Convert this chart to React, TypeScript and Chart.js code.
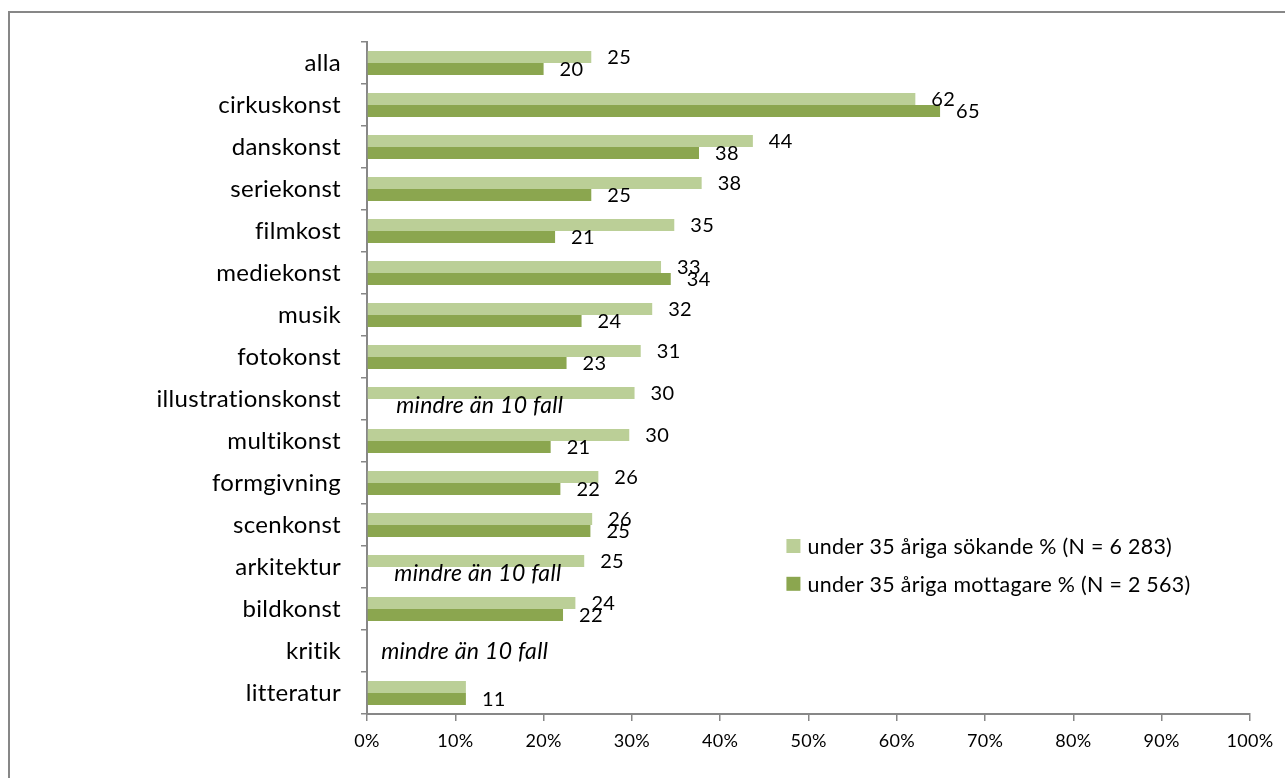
import React, { useEffect, useRef } from "react";
import { Chart, registerables } from "chart.js";

Chart.register(...registerables);

const categories = [
  "alla", "cirkuskonst", "danskonst", "seriekonst", "filmkost", "mediekonst", "musik", "fotokonst",
  "illustrationskonst", "multikonst", "formgivning", "scenkonst", "arkitektur", "bildkonst", "kritik", "litteratur",
];
const sokande = [25.4, 62.1, 43.7, 37.9, 34.8, 33.3, 32.3, 31.0, 30.3, 29.7, 26.2, 25.5, 24.6, 23.6, null, 11.2];
const mottagare = [20.0, 64.9, 37.6, 25.4, 21.3, 34.4, 24.3, 22.6, null, 20.8, 21.9, 25.3, null, 22.2, null, 11.2];
const sokandeLabels = ["25", "62", "44", "38", "35", "33", "32", "31", "30", "30", "26", "26", "25", "24", "", ""];
const mottagareLabels = ["20", "65", "38", "25", "21", "34", "24", "23", "", "21", "22", "25", "", "22", "", "11"];
const seriesNames = ["under 35 åriga sökande % (N = 6 283)", "under 35 åriga mottagare % (N = 2 563)"];
const seriesColors = ["#bbcf97", "#8ba64f"];
const xTicks = [0, 10, 20, 30, 40, 50, 60, 70, 80, 90, 100];
const noteText = "mindre än 10 fall";
const noteCategories = ["illustrationskonst", "arkitektur", "kritik"];
const noteSlots = ["mottagare", "mottagare", "center"];
const noteAt = [3.3, 3.1, 1.6];

const FONT = "Lato";

const decorPlugin = {
  id: "decor",
  beforeDraw(chart: any) {
    const ctx = chart.ctx;
    (ctx as any).letterSpacing = "0.3px";
    ctx.save();
    ctx.strokeStyle = "#878787";
    ctx.lineWidth = 2;
    ctx.strokeRect(9, 12, 1300, 800);
    ctx.restore();
  },
  afterDatasetsDraw(chart: any) {
    const ctx = chart.ctx;
    const xs = chart.scales.x;
    const ys = chart.scales.y;
    ctx.save();
    (ctx as any).letterSpacing = "0.3px";
    ctx.fillStyle = "#000";
    ctx.textBaseline = "middle";
    ctx.textAlign = "left";
    ctx.font = `20px ${FONT}`;
    const labelSets = [sokandeLabels, mottagareLabels];
    [0, 1].forEach((di) => {
      const meta = chart.getDatasetMeta(di);
      meta.data.forEach((el: any, i: number) => {
        const txt = labelSets[di][i];
        if (!txt) return;
        ctx.fillText(txt, el.x + 16, el.y + 1);
      });
    });
    // notes
    const lightMeta = chart.getDatasetMeta(0);
    const h = lightMeta.data[0].height;
    ctx.font = `italic 23px ${FONT}`;
    noteCategories.forEach((c, k) => {
      const idx = categories.indexOf(c);
      let y = ys.getPixelForValue(idx);
      if (noteSlots[k] === "mottagare") y += h / 2;
      ctx.fillText(noteText, xs.getPixelForValue(noteAt[k]), y + 1);
    });
    // legend
    ctx.font = `21.4px ${FONT}`;
    const lx = xs.getPixelForValue(47.5);
    const ly = [ys.getPixelForValue(11.5), ys.getPixelForValue(12.4)];
    seriesNames.forEach((n, k) => {
      ctx.fillStyle = seriesColors[k];
      ctx.fillRect(lx, ly[k] - 7, 14, 14);
      ctx.fillStyle = "#000";
      ctx.fillText(n, lx + 21, ly[k] + 1);
    });
    ctx.restore();
  },
};

export default function App() {
  const ref = useRef<HTMLCanvasElement | null>(null);
  useEffect(() => {
    if (!ref.current) return;
    const chart = new Chart(ref.current, {
      type: "bar",
      data: {
        labels: categories,
        datasets: [
          { label: seriesNames[0], data: sokande, backgroundColor: seriesColors[0], borderWidth: 0 },
          { label: seriesNames[1], data: mottagare, backgroundColor: seriesColors[1], borderWidth: 0 },
        ],
      },
      options: {
        indexAxis: "y",
        animation: false,
        responsive: false,
        events: [],
        layout: { padding: { top: 42, right: 35, bottom: 24, left: 0 } },
        datasets: { bar: { barPercentage: 1, categoryPercentage: 0.575 } },
        plugins: { legend: { display: false }, tooltip: { enabled: false } },
        scales: {
          x: {
            min: 0,
            max: 100,
            afterFit: (s: any) => { s.height = 40; },
            afterBuildTicks: (s: any) => { s.ticks = xTicks.map((v) => ({ value: v })); },
            ticks: { callback: (v: any) => v + "%", color: "#000", font: { family: FONT, size: 18 }, padding: 9, maxRotation: 0 },
            grid: { drawOnChartArea: false, tickLength: 7, color: "#878787", lineWidth: 1.5 },
            border: { color: "#878787", width: 2 },
          },
          y: {
            afterFit: (s: any) => { s.width = 367; },
            ticks: { color: "#000", font: { family: FONT, size: 24 }, padding: 20, autoSkip: false },
            grid: { drawOnChartArea: false, tickLength: 6, color: "#878787", lineWidth: 1.5, offset: true },
            border: { color: "#878787", width: 2 },
          },
        },
      },
      plugins: [decorPlugin],
    });
    return () => chart.destroy();
  }, []);
  return (
    <div style={{ position: "absolute", left: 0, top: 0, width: 1285, height: 778, background: "#fff" }}>
      <canvas ref={ref} width={1285} height={778} style={{ display: "block" }} />
    </div>
  );
}
